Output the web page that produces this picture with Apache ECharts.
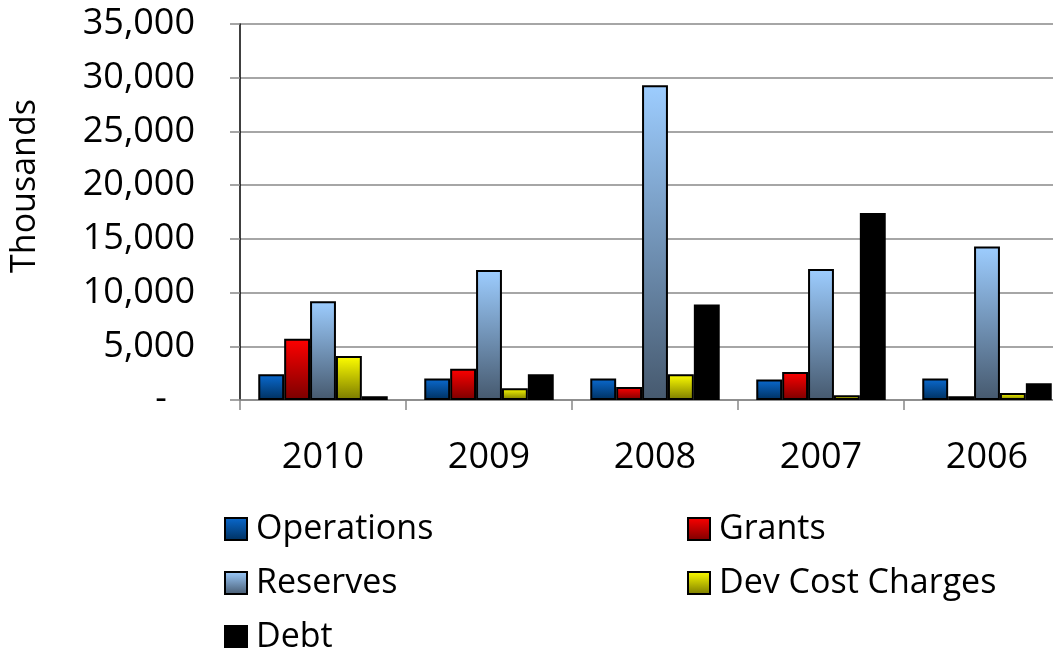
<!DOCTYPE html>
<html>
<head>
<meta charset="utf-8">
<script src="https://cdn.jsdelivr.net/npm/echarts@6/dist/echarts.min.js"></script>
<style>
html, body { margin: 0; padding: 0; background: #fff; }
#chart { width: 1053px; height: 648px; }
</style>
</head>
<body>
<div id="chart"></div>
<script>
const years = ["2010", "2009", "2008", "2007", "2006"]
const operations = [2400, 2000, 2000, 1900, 2000]
const grants = [5700, 2900, 1200, 2600, 350]
const reserves = [9200, 12100, 29300, 12200, 14300]
const devCostCharges = [4100, 1100, 2400, 450, 650]
const debt = [350, 2400, 8900, 17400, 1550]
const yTicks = [0, 5000, 10000, 15000, 20000, 25000, 30000, 35000]

const font = "'Open Sans', 'Noto Sans', sans-serif"

function grad(top, bottom) {
    return new echarts.graphic.LinearGradient(0, 0, 0, 1, [
        { offset: 0, color: top },
        { offset: 1, color: bottom },
    ])
}

const seriesDefs = [
    { name: "Operations", data: operations, color: grad("#0a6ad0", "#00305e") },
    { name: "Grants", data: grants, color: grad("#ff0000", "#7a0000") },
    { name: "Reserves", data: reserves, color: grad("#9dcdff", "#46596e") },
    { name: "Dev Cost Charges", data: devCostCharges, color: grad("#ffff00", "#7a7a00") },
    { name: "Debt", data: debt, color: "#000" },
]

// two hand-placed legend columns, like the original
const legendBase = {
    orient: "vertical", top: 507, height: 200, itemGap: 20,
    itemWidth: 22, itemHeight: 22, icon: "rect",
    itemStyle: { borderColor: "#000", borderWidth: 2 },
    textStyle: { fontFamily: font, fontSize: 34, lineHeight: 34, color: "#000", padding: [0, 0, 0, 4] },
}

const chart = echarts.init(document.getElementById("chart"), null, { renderer: "canvas" })

chart.setOption({
    animation: false,
    grid: { left: 240, top: 24, width: 830, height: 376, containLabel: false, outerBoundsMode: "none" },
    legend: [
        Object.assign({}, legendBase, { left: 219, data: ["Operations", "Reserves", "Debt"] }),
        Object.assign({}, legendBase, { left: 682, data: ["Grants", "Dev Cost Charges"] }),
    ],
    xAxis: {
        type: "category",
        data: years,
        axisLine: { lineStyle: { color: "#888", width: 1.5 } },
        axisTick: { show: true, length: 10, lineStyle: { color: "#888", width: 1.5 } },
        axisLabel: { fontFamily: font, fontSize: 36, color: "#000", margin: 40 },
    },
    yAxis: {
        type: "value",
        min: yTicks[0],
        max: yTicks[yTicks.length - 1],
        interval: 5000,
        name: "Thousands",
        nameLocation: "middle",
        nameGap: 198,
        nameTextStyle: { fontFamily: font, fontSize: 34, color: "#000", padding: [0, 0, 0, 52] },
        axisLine: { show: true, lineStyle: { color: "#000", width: 1.5 } },
        axisTick: { show: true, length: 10, lineStyle: { color: "#888", width: 1.5 } },
        splitLine: { lineStyle: { color: "#888", width: 1.5 } },
        axisLabel: {
            fontFamily: font, fontSize: 36, color: "#000", margin: 45,
            formatter: v => v === 0 ? "-   " : v.toLocaleString("en-US"),
        },
    },
    series: seriesDefs.map(s => ({
        name: s.name,
        type: "bar",
        data: s.data,
        barGap: "0%",
        barCategoryGap: "22%",
        itemStyle: { color: s.color, borderColor: "#000", borderWidth: 2 },
    })),
})
</script>
</body>
</html>
